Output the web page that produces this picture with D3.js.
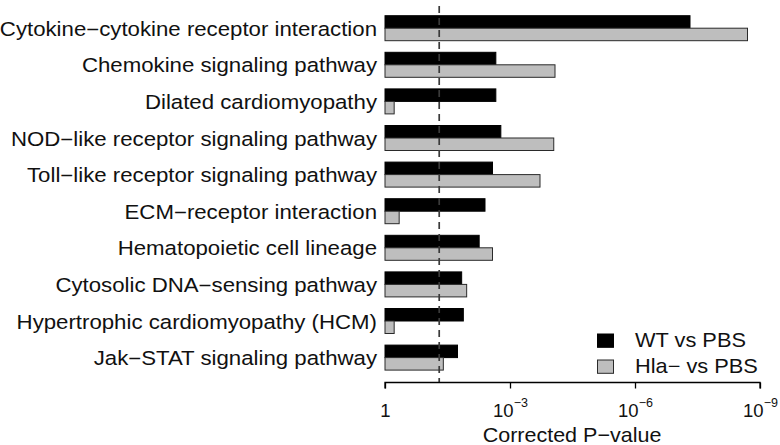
<!DOCTYPE html>
<html>
<head>
<meta charset="utf-8">
<script src="https://cdn.jsdelivr.net/npm/d3@7"></script>
<style>
  html, body { margin: 0; padding: 0; background: #fff; }
  svg { display: block; font-family: "Liberation Sans", Arial, sans-serif; }
</style>
</head>
<body>
<svg id="chart" width="780" height="445"></svg>
<script>
// Pathway categories (top to bottom)
const categories = [
  "Cytokine−cytokine receptor interaction",
  "Chemokine signaling pathway",
  "Dilated cardiomyopathy",
  "NOD−like receptor signaling pathway",
  "Toll−like receptor signaling pathway",
  "ECM−receptor interaction",
  "Hematopoietic cell lineage",
  "Cytosolic DNA−sensing pathway",
  "Hypertrophic cardiomyopathy (HCM)",
  "Jak−STAT signaling pathway"
];
// -log10(corrected P-value)
const wtVsPbs  = [7.32, 2.66, 2.66, 2.78, 2.58, 2.40, 2.26, 1.84, 1.88, 1.74];
const hlaVsPbs = [8.70, 4.08, 0.22, 4.05, 3.72, 0.34, 2.58, 1.96, 0.22, 1.40];
const seriesNames = ["WT vs PBS", "Hla− vs PBS"];
const seriesValues = [wtVsPbs, hlaVsPbs];
const seriesColors = ["#000000", "#bebebe"];
const tickValues = [0, 3, 6, 9];
const tickLabels = [["1", ""], ["10", "−3"], ["10", "−6"], ["10", "−9"]];
const threshold = -Math.log10(0.05);
const xTitle = "Corrected P−value";

const svg = d3.select("#chart");

const x = d3.scaleLinear().domain([0, 9]).range([385, 760]);
const y = d3.scaleBand().domain(categories).range([15.7, 370.1]).paddingInner(0.317).paddingOuter(0);
const ySub = d3.scaleBand().domain(seriesNames).range([0, y.bandwidth()]);

// bars
const groups = svg.append("g").selectAll("g")
  .data(categories)
  .join("g")
  .attr("transform", d => `translate(0,${y(d)})`);

groups.each(function(cat, i) {
  const g = d3.select(this);
  seriesNames.forEach((s, j) => {
    const v = seriesValues[j][i];
    g.append("rect")
      .attr("x", x(0))
      .attr("y", ySub(s))
      .attr("width", x(v) - x(0))
      .attr("height", ySub.bandwidth())
      .attr("fill", seriesColors[j])
      .attr("stroke", j === 0 ? "#000" : "#2a2a2a")
      .attr("stroke-width", 1);
  });
});

// category labels
svg.append("g").selectAll("text")
  .data(categories)
  .join("text")
  .attr("transform", d => `translate(377,${y(d) + y.bandwidth() / 2}) scale(1.14,1)`)
  .attr("dy", "0.39em")
  .attr("text-anchor", "end")
  .attr("font-size", 19.5)
  .attr("fill", "#111")
  .text(d => d);

// threshold dashed line
svg.append("line")
  .attr("x1", x(threshold)).attr("x2", x(threshold))
  .attr("y1", 6).attr("y2", 382)
  .attr("stroke", "#3a3a3a")
  .attr("stroke-width", 1.7)
  .attr("stroke-dasharray", "7,5");

// x axis
const axis = d3.axisBottom(x).tickValues(tickValues).tickSize(6).tickFormat(() => "");
const axG = svg.append("g").attr("transform", "translate(0,382.5)").call(axis);
axG.select(".domain").attr("stroke", "#000").attr("stroke-width", 1.3)
  .attr("d", `M${x(0)},6V0H${x(9)}V6`);
axG.selectAll(".tick line").attr("stroke", "#000").attr("stroke-width", 1.3);

axG.selectAll(".tick").each(function(d, i) {
  const t = d3.select(this).append("text")
    .attr("y", 34.2)
    .attr("fill", "#111")
    .attr("text-anchor", "middle")
    .attr("font-size", 18.5)
    .attr("font-family", "Liberation Sans, Arial, sans-serif");
  const lab = tickLabels[i];
  t.append("tspan").text(lab[0]);
  if (lab[1]) {
    t.append("tspan").attr("font-size", 12.5).attr("dy", -10).text(lab[1]);
  }
});

// x title
svg.append("text")
  .attr("transform", "translate(572,442) scale(1.05,1)")
  .attr("text-anchor", "middle")
  .attr("font-size", 20.5)
  .attr("fill", "#111")
  .text(xTitle);

// legend
const leg = svg.append("g").selectAll("g")
  .data(seriesNames)
  .join("g")
  .attr("transform", (d, i) => `translate(597.5,${334 + i * 26})`);
leg.append("rect")
  .attr("width", 16).attr("height", 13.3)
  .attr("fill", (d, i) => seriesColors[i])
  .attr("stroke", (d, i) => i === 0 ? "#000" : "#2a2a2a")
  .attr("stroke-width", 1);
leg.append("text")
  .attr("transform", "translate(37.5,12.7) scale(1.09,1)")
  .attr("font-size", 20)
  .attr("fill", "#111")
  .text(d => d);
</script>
</body>
</html>
